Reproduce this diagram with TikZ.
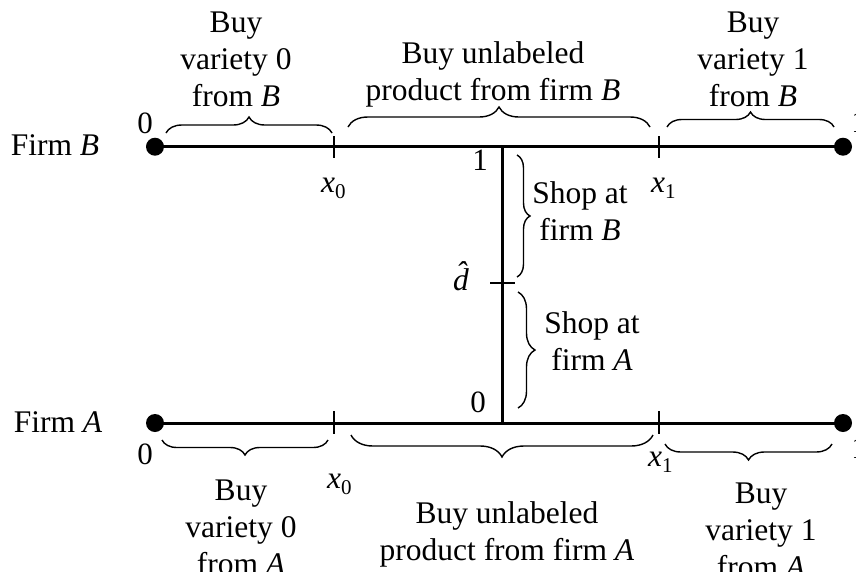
\documentclass[tikz,border=0pt]{standalone}
\usepackage{fontspec}
\setmainfont{Liberation Serif}
\usetikzlibrary{decorations.pathreplacing}
% x with an upright subscript, as in x_0 and x_1
\newcommand\xsub[1]{\textit{x}\raisebox{-6pt}{\fontsize{21}{21}\selectfont #1}}
\begin{document}
\begin{tikzpicture}[x=1pt,y=-1pt,
  axis/.style={line width=3pt},
  tickmark/.style={line width=1.8pt},
  curly/.style={decorate, decoration={brace, amplitude=#1}, line width=1.4pt},
  dot/.style={circle, fill, inner sep=0pt, minimum size=18pt},
  big/.style={font=\fontsize{31.5}{37}\selectfont, inner sep=0pt, align=center, anchor=base},
  small/.style={font=\fontsize{31}{32}\selectfont, inner sep=0pt, anchor=base},
  xlab/.style={font=\fontsize{31.5}{37}\selectfont, inner sep=0pt, anchor=base west}]
\useasboundingbox (0,0) rectangle (856,571);

% end points of the two firm lines
\node[dot] (B0) at (155,146.7) {};
\node[dot] (B1) at (843,146.7) {};
\node[dot] (A0) at (155,423) {};
\node[dot] (A1) at (843,423) {};
\draw[axis] (B0.center) -- (B1.center);
\draw[axis] (A0.center) -- (A1.center);

% vertical segment joining the firms
\coordinate (Bm) at (502,146.7);
\coordinate (Am) at (502,423);
\draw[axis] (Bm) -- (Am);

% tick marks
\coordinate (tb0a) at (334,136); \coordinate (tb0b) at (334,158);
\coordinate (tb1a) at (659,136); \coordinate (tb1b) at (659,158);
\coordinate (ta0a) at (334,411); \coordinate (ta0b) at (334,434);
\coordinate (ta1a) at (659,411); \coordinate (ta1b) at (659,434);
\coordinate (tda) at (490,283); \coordinate (tdb) at (515,283);
\draw[tickmark] (tb0a) -- (tb0b);
\draw[tickmark] (tb1a) -- (tb1b);
\draw[tickmark] (ta0a) -- (ta0b);
\draw[tickmark] (ta1a) -- (ta1b);
\draw[tickmark] (tda) -- (tdb);

% braces above firm B
\draw[curly=16] (166,133) -- (332,133);
\draw[curly=20] (348,127) -- (650,127);
\draw[curly=15] (667,127) -- (834,127);
% braces below firm A
\draw[curly=15] (328,440) -- (162,440);
\draw[curly=22] (653,435) -- (351,435);
\draw[curly=16] (832,444) -- (665,444);
% braces beside the vertical segment
\draw[curly=13] (517,155) -- (517,277);
\draw[curly=17] (518,292) -- (518,408);

% firm names
\node[big] (fB) at (55,155) {Firm \textit{B}};
\node[big] (fA) at (58,432) {Firm \textit{A}};

% end labels
\node[small] (lB0) at (145,133) {0};
\node[small] (lB1) at (859,132) {1};
\node[small] (lA0) at (145,464) {0};
\node[small] (lA1) at (859,458) {1};
\node[small] (lv1) at (480,170) {1};
\node[small] (lv0) at (478,412) {0};
\node[small, font=\fontsize{31.5}{32}\selectfont] (ldh) at (467,290) {\textit{\^d}};

% thresholds
\node[xlab] (xb0) at (321,192) {\xsub{0}};
\node[xlab] (xb1) at (651,192) {\xsub{1}};
\node[xlab] (xa0) at (327,488) {\xsub{0}};
\node[xlab] (xa1) at (648,466) {\xsub{1}};

% segment descriptions, firm B (anchored at the last line's baseline)
\node[big] (dB0) at (236,106) {Buy\\variety 0\\from \textit{B}};
\node[big] (dBu) at (493,100) {Buy unlabeled\\product from firm \textit{B}};
\node[big] (dB1) at (753,106) {Buy\\variety 1\\from \textit{B}};
% shopping regions
\node[big] (sB) at (580,240) {Shop at\\firm \textit{B}};
\node[big] (sA) at (592,370) {Shop at\\firm \textit{A}};
% segment descriptions, firm A
\node[big] (dA0) at (241,574) {Buy\\variety 0\\from \textit{A}};
\node[big] (dAu) at (507,560) {Buy unlabeled\\product from firm \textit{A}};
\node[big] (dA1) at (761,577) {Buy\\variety 1\\from \textit{A}};
\end{tikzpicture}
\end{document}
